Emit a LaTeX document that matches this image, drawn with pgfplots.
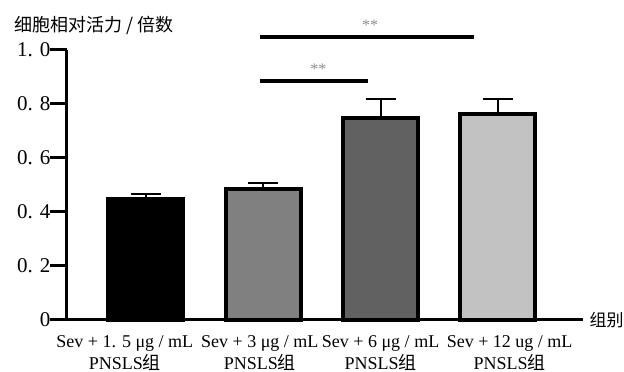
\documentclass[border=0pt]{standalone}
\usepackage{fontspec}
\setmainfont{Liberation Serif}
\newfontfamily\cjk{Noto Sans CJK SC}
\usepackage{pgfplots}
\pgfplotsset{compat=1.18}
\begin{document}
\begin{tikzpicture}[x=1pt,y=1pt]
\useasboundingbox (-67,-52) rectangle (557,320);
\begin{axis}[at={(0,0)}, anchor=south west, scale only axis, width=516pt, height=270pt,
  xmin=-0.673, xmax=3.725, ymin=0, ymax=1,
  axis x line=bottom, axis y line=left,
  x axis line style={-}, y axis line style={-},
  axis line style={line width=3pt},
  clip=false,
  xtick={-0.18,0.97,2.0,3.1},
  xticklabels={{Sev + 1. 5 μg / mL\\PNSLS{\cjk 组}},{Sev + 3 μg / mL\\PNSLS{\cjk 组}},{Sev + 6 μg / mL\\PNSLS{\cjk 组}},{Sev + 12 ug / mL\\PNSLS{\cjk 组}}},
  xticklabel style={align=center, yshift=5pt, font=\fontsize{18}{22}\selectfont},
  x tick style={draw=none},
  ytick={0,0.2,0.4,0.6,0.8,1.0},
  yticklabels={0,0. 2,0. 4,0. 6,0. 8,1. 0},
  yticklabel style={font=\fontsize{21}{22}\selectfont, xshift=4pt},
  tick align=outside, major tick length=17pt,
  y tick style={line width=3pt, black},
]
\addplot[ybar, bar width=75pt, bar shift=0pt, fill=black, draw=black, line width=4pt,
  error bars/.cd, y dir=plus, y explicit, error bar style={line width=2pt},
  error mark options={rotate=90, mark size=15pt, line width=2pt}]
  coordinates {(0,0.447) +- (0,0.02)};
\addplot[ybar, bar width=75pt, bar shift=0pt, fill=black!50, draw=black, line width=4pt,
  error bars/.cd, y dir=plus, y explicit, error bar style={line width=2pt},
  error mark options={rotate=90, mark size=15pt, line width=2pt}]
  coordinates {(1,0.484) +- (0,0.022)};
\addplot[ybar, bar width=75pt, bar shift=0pt, fill=black!62, draw=black, line width=4pt,
  error bars/.cd, y dir=plus, y explicit, error bar style={line width=2pt},
  error mark options={rotate=90, mark size=15pt, line width=2pt}]
  coordinates {(2,0.748) +- (0,0.07)};
\addplot[ybar, bar width=75pt, bar shift=0pt, fill=black!24, draw=black, line width=4pt,
  error bars/.cd, y dir=plus, y explicit, error bar style={line width=2pt},
  error mark options={rotate=90, mark size=15pt, line width=2pt}]
  coordinates {(3,0.763) +- (0,0.055)};
\draw[line width=4pt] (axis cs:0.97,1.048) -- (axis cs:2.8,1.048);
\draw[line width=4pt] (axis cs:0.97,0.885) -- (axis cs:1.89,0.885);
\node[text=black!45, font=\fontsize{16}{16}\selectfont] at (axis cs:1.91,1.092) {**};
\node[text=black!45, font=\fontsize{16}{16}\selectfont] at (axis cs:1.47,0.930) {**};
\end{axis}
\node[font=\cjk\fontsize{18}{20}\selectfont, anchor=west] at (-56,295) {细胞相对活力 / 倍数};
\node[font=\cjk\fontsize{17}{20}\selectfont, anchor=west] at (519,0) {组别};
\end{tikzpicture}
\end{document}
